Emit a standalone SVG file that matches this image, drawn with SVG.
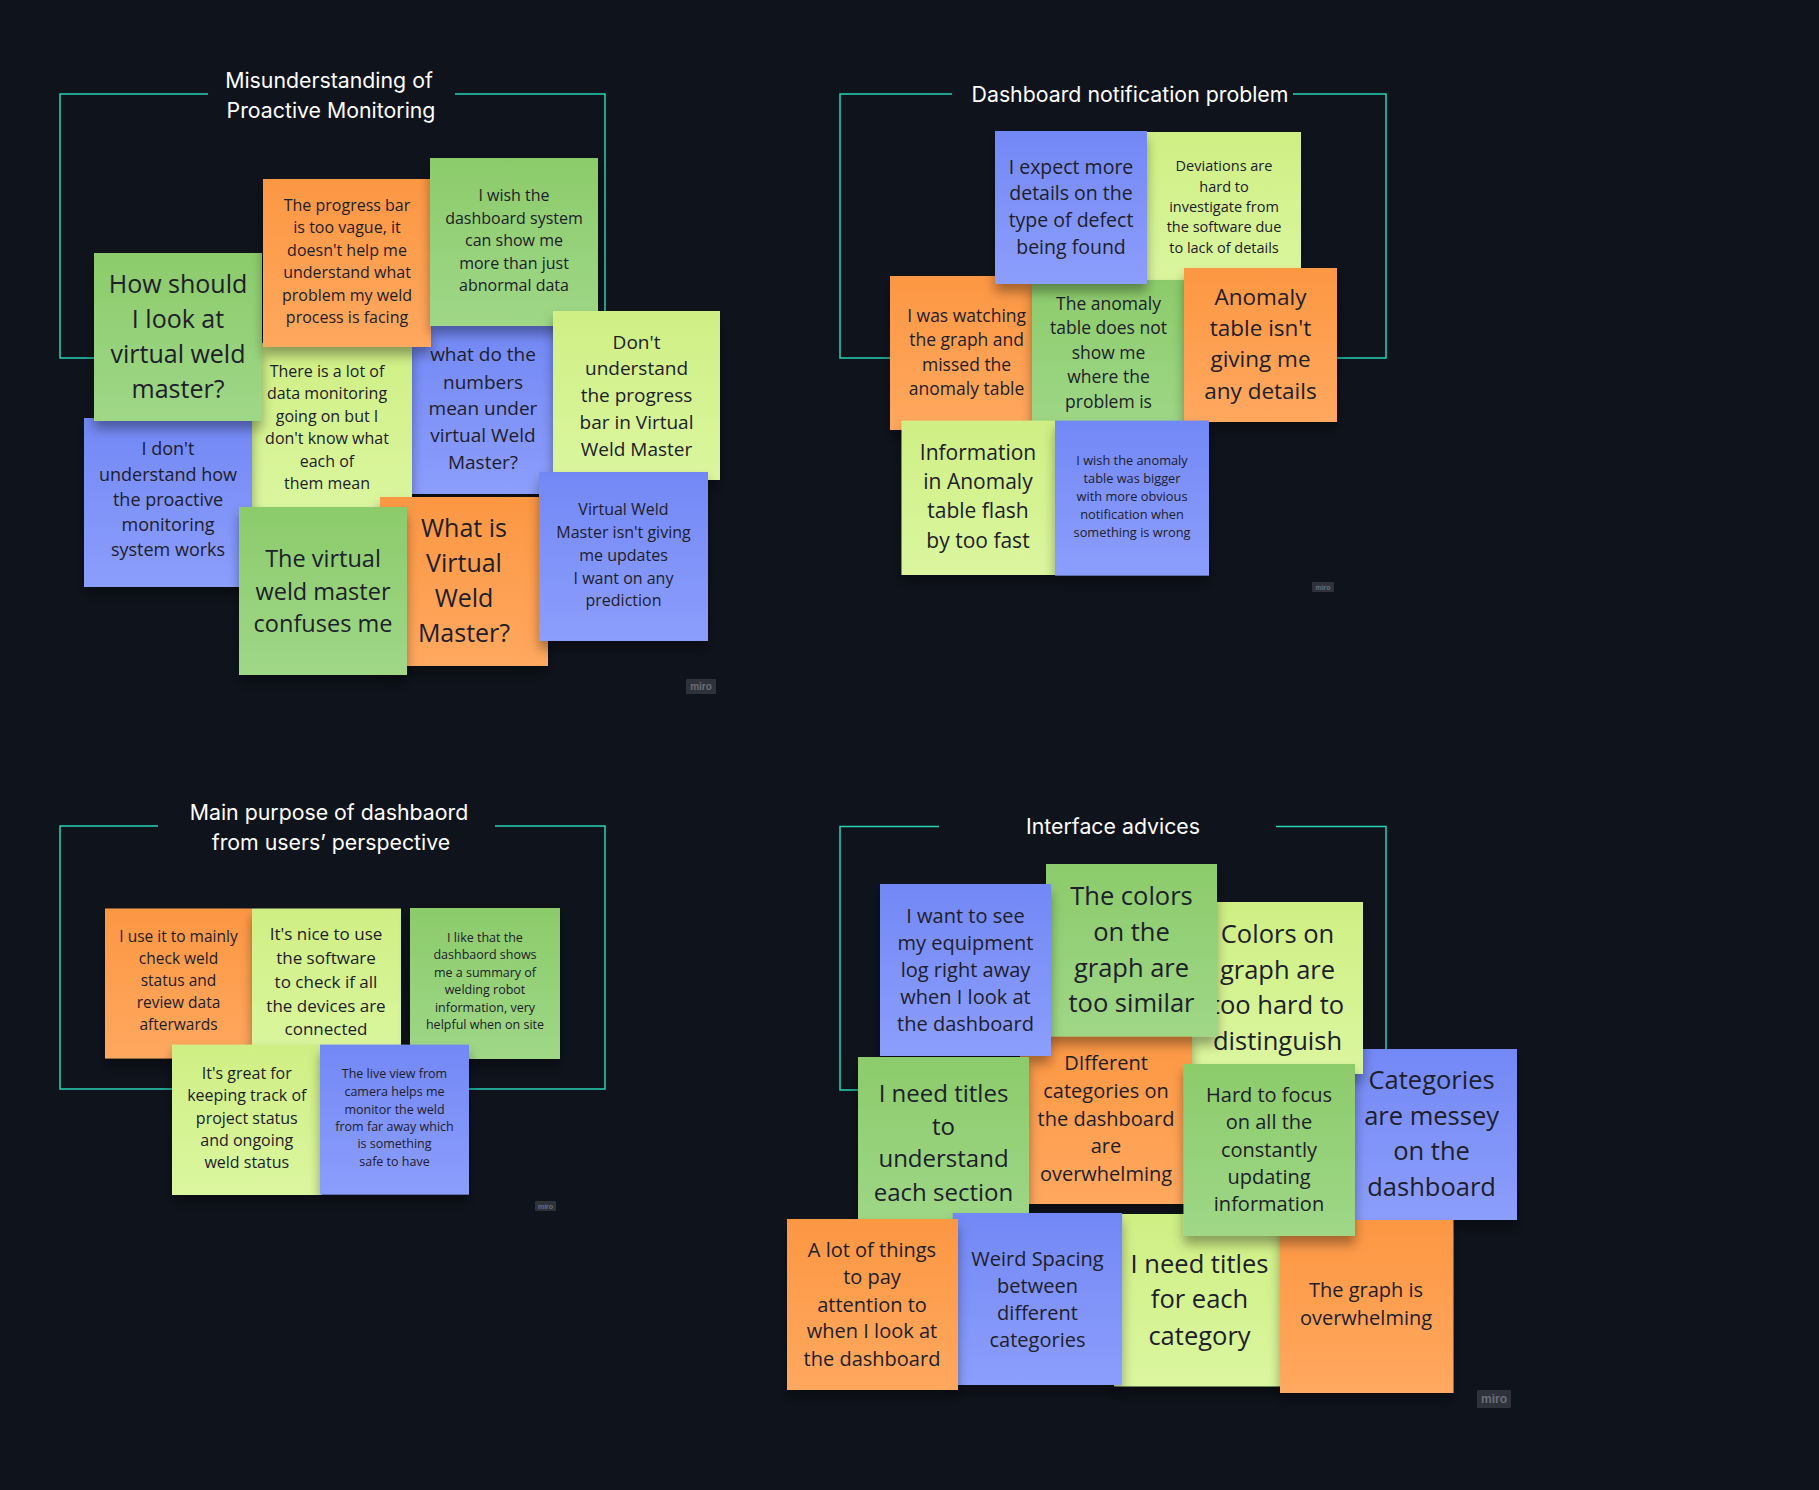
<svg xmlns="http://www.w3.org/2000/svg" width="1819" height="1490" viewBox="0 0 1819 1490">
<defs>
<linearGradient id="gO" x1="0" y1="0" x2="0" y2="1"><stop offset="0" stop-color="#fc9743"/><stop offset="1" stop-color="#ffa85f"/></linearGradient>
<linearGradient id="gG" x1="0" y1="0" x2="0" y2="1"><stop offset="0" stop-color="#8ccb6b"/><stop offset="1" stop-color="#9fd787"/></linearGradient>
<linearGradient id="gB" x1="0" y1="0" x2="0" y2="1"><stop offset="0" stop-color="#7288f5"/><stop offset="1" stop-color="#8c9efc"/></linearGradient>
<linearGradient id="gL" x1="0" y1="0" x2="0" y2="1"><stop offset="0" stop-color="#cfef84"/><stop offset="1" stop-color="#dbf69f"/></linearGradient>
<filter id="sh" x="-20%" y="-20%" width="140%" height="150%"><feDropShadow dx="0" dy="8" stdDeviation="6" flood-color="#000" flood-opacity="0.35"/></filter>
</defs>
<style>
.bg{fill:#0f131c}
.fr{fill:none;stroke:#27d3b5;stroke-width:1.5}
.ti{font-family:Inter,"Liberation Sans",sans-serif;font-size:21.3px;fill:#ffffff;text-anchor:middle}
.s{filter:url(#sh)}
.o{fill:url(#gO)}
.g{fill:url(#gG)}
.b{fill:url(#gB)}
.l{fill:url(#gL)}
.t{font-family:"Open Sans","Liberation Sans",sans-serif;fill:#1d2029;text-anchor:middle}
.mb{fill:#2f323b}
.mt{font-family:"Liberation Sans",sans-serif;font-weight:bold;fill:#6a6d78;text-anchor:middle}
</style>
<rect class="bg" x="0" y="0" width="1819" height="1490"/>

<g id="connectors">
<path class="fr" d="M208,94 H60 V358 H605 V94 H455"/>
<path class="fr" d="M952,94 H840 V358 H1386 V94 H1293"/>
<path class="fr" d="M158,826 H60 V1089 H605 V826 H495"/>
<path class="fr" d="M939,826.5 H840 V1090 H1386 V826.5 H1276"/>
</g>

<g id="titles">
<text class="ti"><tspan x="329" y="87.5">Misunderstanding of</tspan><tspan x="331" y="117.5">Proactive Monitoring</tspan></text>
<text class="ti" x="1130" y="102">Dashboard notification problem</text>
<text class="ti"><tspan x="329" y="819.5">Main purpose of dashbaord</tspan><tspan x="331" y="849.5">from users’ perspective</tspan></text>
<text class="ti" x="1113" y="834">Interface advices</text>
</g>

<!-- Frame 1 -->
<g id="n1-6"><rect class="s b" x="399" y="326" width="168" height="168"/>
<text class="t" font-size="19"><tspan x="483" y="361">what do the</tspan><tspan x="483" y="388.5">numbers</tspan><tspan x="483" y="415.4">mean under</tspan><tspan x="483" y="442.3">virtual Weld</tspan><tspan x="483" y="468.9">Master?</tspan></text></g>
<g id="n1-5"><rect class="s l" x="244" y="343" width="168" height="168"/>
<text class="t" font-size="16"><tspan x="327" y="376.6">There is a lot of</tspan><tspan x="327" y="399.2">data monitoring</tspan><tspan x="327" y="421.6">going on but I</tspan><tspan x="327" y="443.6">don't know what</tspan><tspan x="327" y="466.6">each of</tspan><tspan x="327" y="488.6">them mean</tspan></text></g>
<g id="n1-4"><rect class="s b" x="84" y="418" width="168" height="169"/>
<text class="t" font-size="18"><tspan x="168" y="455.3">I don't</tspan><tspan x="168" y="480.7">understand how</tspan><tspan x="168" y="506.3">the proactive</tspan><tspan x="168" y="531.3">monitoring</tspan><tspan x="168" y="556.3">system works</tspan></text></g>
<g id="n1-9"><rect class="s o" x="380" y="497" width="168" height="169"/>
<text class="t" font-size="25"><tspan x="464" y="536.8">What is</tspan><tspan x="464" y="572.4">Virtual</tspan><tspan x="464" y="607.3">Weld</tspan><tspan x="464" y="642.3">Master?</tspan></text></g>
<g id="n1-1"><rect class="s g" x="94" y="253" width="168" height="168"/>
<text class="t" font-size="25"><tspan x="178" y="292.8">How should</tspan><tspan x="178" y="327.8">I look at</tspan><tspan x="178" y="362.8">virtual weld</tspan><tspan x="178" y="397.8">master?</tspan></text></g>
<g id="n1-2"><rect class="s o" x="263" y="179" width="168" height="168"/>
<text class="t" font-size="16"><tspan x="347" y="211">The progress bar</tspan><tspan x="347" y="233.3">is too vague, it</tspan><tspan x="347" y="255.6">doesn't help me</tspan><tspan x="347" y="277.9">understand what</tspan><tspan x="347" y="300.6">problem my weld</tspan><tspan x="347" y="323.4">process is facing</tspan></text></g>
<g id="n1-3"><rect class="s g" x="430" y="158" width="168" height="168"/>
<text class="t" font-size="16"><tspan x="514" y="200.9">I wish the</tspan><tspan x="514" y="223.6">dashboard system</tspan><tspan x="514" y="246">can show me</tspan><tspan x="514" y="268.6">more than just</tspan><tspan x="514" y="291">abnormal data</tspan></text></g>
<g id="n1-7"><rect class="s l" x="553" y="311" width="167" height="169"/>
<text class="t" font-size="19"><tspan x="636.5" y="348.5">Don't</tspan><tspan x="636.5" y="375">understand</tspan><tspan x="636.5" y="402.4">the progress</tspan><tspan x="636.5" y="428.9">bar in Virtual</tspan><tspan x="636.5" y="455.7">Weld Master</tspan></text></g>
<g id="n1-8"><rect class="s b" x="539" y="472" width="169" height="169"/>
<text class="t" font-size="16"><tspan x="623.5" y="515.4">Virtual Weld</tspan><tspan x="623.5" y="538.1">Master isn't giving</tspan><tspan x="623.5" y="560.8">me updates</tspan><tspan x="623.5" y="583.6">I want on any</tspan><tspan x="623.5" y="605.6">prediction</tspan></text></g>
<g id="n1-10"><rect class="s g" x="239" y="507" width="168" height="168"/>
<text class="t" font-size="23.5"><tspan x="323" y="566.8">The virtual</tspan><tspan x="323" y="599.6">weld master</tspan><tspan x="323" y="631.6">confuses me</tspan></text></g>
<g id="miro1"><rect class="mb" x="686" y="679" width="30" height="15" rx="1"/><text class="mt" x="701" y="690" font-size="10">miro</text></g>

<!-- Frame 2 -->
<g id="n2-b"><rect class="s l" x="1147" y="132" width="154" height="154"/>
<text class="t" font-size="14.5"><tspan x="1224" y="171.1">Deviations are</tspan><tspan x="1224" y="191.5">hard to</tspan><tspan x="1224" y="211.8">investigate from</tspan><tspan x="1224" y="232.1">the software due</tspan><tspan x="1224" y="252.8">to lack of details</tspan></text></g>
<g id="n2-c"><rect class="s o" x="890" y="276" width="153" height="154"/>
<text class="t" font-size="17.5"><tspan x="966.6" y="322.1">I was watching</tspan><tspan x="966.6" y="346.1">the graph and</tspan><tspan x="966.6" y="370.6">missed the</tspan><tspan x="966.6" y="395.1">anomaly table</tspan></text></g>
<g id="n2-d"><rect class="s g" x="1032" y="280" width="153" height="150"/>
<text class="t" font-size="17.5"><tspan x="1108.5" y="309.6">The anomaly</tspan><tspan x="1108.5" y="334.1">table does not</tspan><tspan x="1108.5" y="358.5">show me</tspan><tspan x="1108.5" y="382.9">where the</tspan><tspan x="1108.5" y="407.7">problem is</tspan></text></g>
<g id="n2-a"><rect class="s b" x="995" y="131" width="152" height="153"/>
<text class="t" font-size="19.5"><tspan x="1071" y="173.6">I expect more</tspan><tspan x="1071" y="200.4">details on the</tspan><tspan x="1071" y="227.3">type of defect</tspan><tspan x="1071" y="253.8">being found</tspan></text></g>
<g id="n2-g"><rect class="s o" x="1184" y="268" width="153" height="154"/>
<text class="t" font-size="22.5"><tspan x="1260.5" y="304.5">Anomaly</tspan><tspan x="1260.5" y="335.5">table isn't</tspan><tspan x="1260.5" y="366.9">giving me</tspan><tspan x="1260.5" y="398.5">any details</tspan></text></g>
<g id="n2-e"><rect class="s l" x="901.5" y="420.6" width="153.5" height="154.4"/>
<text class="t" font-size="21"><tspan x="978" y="460">Information</tspan><tspan x="978" y="489.4">in Anomaly</tspan><tspan x="978" y="518.4">table flash</tspan><tspan x="978" y="547.8">by too fast</tspan></text></g>
<g id="n2-f"><rect class="s b" x="1055" y="420.6" width="154" height="155"/>
<text class="t" font-size="12.8"><tspan x="1132" y="464.5">I wish the anomaly</tspan><tspan x="1132" y="482.5">table was bigger</tspan><tspan x="1132" y="500.5">with more obvious</tspan><tspan x="1132" y="518.5">notification when</tspan><tspan x="1132" y="536.5">something is wrong</tspan></text></g>
<g id="miro2"><rect class="mb" x="1312" y="582" width="22" height="10" rx="1"/><text class="mt" x="1323" y="589.5" font-size="7">miro</text></g>

<!-- Frame 3 -->
<g id="n3-a"><rect class="s o" x="105" y="908.5" width="147" height="150"/>
<text class="t" font-size="15.5"><tspan x="178.5" y="942.1">I use it to mainly</tspan><tspan x="178.5" y="964">check weld</tspan><tspan x="178.5" y="986.3">status and</tspan><tspan x="178.5" y="1008.2">review data</tspan><tspan x="178.5" y="1030.4">afterwards</tspan></text></g>
<g id="n3-b"><rect class="s l" x="252" y="908.5" width="149" height="150"/>
<text class="t" font-size="17"><tspan x="326" y="940.4">It's nice to use</tspan><tspan x="326" y="964.3">the software</tspan><tspan x="326" y="987.9">to check if all</tspan><tspan x="326" y="1011.8">the devices are</tspan><tspan x="326" y="1035.3">connected</tspan></text></g>
<g id="n3-c"><rect class="s g" x="410" y="908" width="150" height="151"/>
<text class="t" font-size="12.5"><tspan x="485" y="942.1">I like that the</tspan><tspan x="485" y="959.4">dashbaord shows</tspan><tspan x="485" y="977">me a summary of</tspan><tspan x="485" y="994.2">welding robot</tspan><tspan x="485" y="1011.8">information, very</tspan><tspan x="485" y="1029.1">helpful when on site</tspan></text></g>
<g id="n3-d"><rect class="s l" x="172" y="1044.6" width="149.5" height="150.4"/>
<text class="t" font-size="16"><tspan x="246.8" y="1079.1">It's great for</tspan><tspan x="246.8" y="1101">keeping track of</tspan><tspan x="246.8" y="1123.6">project status</tspan><tspan x="246.8" y="1145.8">and ongoing</tspan><tspan x="246.8" y="1168.1">weld status</tspan></text></g>
<g id="n3-e"><rect class="s b" x="320" y="1044.6" width="149" height="150"/>
<text class="t" font-size="12.5"><tspan x="394.5" y="1078.4">The live view from</tspan><tspan x="394.5" y="1096.4">camera helps me</tspan><tspan x="394.5" y="1113.7">monitor the weld</tspan><tspan x="394.5" y="1131.4">from far away which</tspan><tspan x="394.5" y="1148.4">is something</tspan><tspan x="394.5" y="1166.2">safe to have</tspan></text></g>
<g id="miro3"><rect class="mb" x="535" y="1201" width="21" height="10" rx="1"/><text class="mt" x="545.5" y="1208.5" font-size="7">miro</text></g>

<!-- Frame 4 -->
<g id="n4-g"><rect class="s b" x="1346" y="1049" width="171" height="171"/>
<text class="t" font-size="25.5"><tspan x="1431.6" y="1088.9">Categories</tspan><tspan x="1431.6" y="1125.2">are messey</tspan><tspan x="1431.6" y="1160.4">on the</tspan><tspan x="1431.6" y="1195.6">dashboard</tspan></text></g>
<g id="n4-c"><rect class="s l" x="1192" y="902" width="171" height="172"/>
<text class="t" font-size="25.5"><tspan x="1277.5" y="943.3">Colors on</tspan><tspan x="1277.5" y="978.9">graph are</tspan><tspan x="1277.5" y="1013.9">too hard to</tspan><tspan x="1277.5" y="1049.7">distinguish</tspan></text></g>
<g id="n4-d"><rect class="s o" x="1020" y="1033" width="172" height="171"/>
<text class="t" font-size="20"><tspan x="1106" y="1070">DIfferent</tspan><tspan x="1106" y="1098">categories on</tspan><tspan x="1106" y="1125.7">the dashboard</tspan><tspan x="1106" y="1153.4">are</tspan><tspan x="1106" y="1181">overwhelming</tspan></text></g>
<g id="n4-b"><rect class="s g" x="1046" y="864" width="171" height="172.5"/>
<text class="t" font-size="25.5"><tspan x="1131.5" y="904.9">The colors</tspan><tspan x="1131.5" y="940.6">on the</tspan><tspan x="1131.5" y="976.5">graph are</tspan><tspan x="1131.5" y="1011.9">too similar</tspan></text></g>
<g id="n4-a"><rect class="s b" x="880" y="884" width="171" height="172"/>
<text class="t" font-size="20"><tspan x="965.5" y="922.5">I want to see</tspan><tspan x="965.5" y="950">my equipment</tspan><tspan x="965.5" y="977.4">log right away</tspan><tspan x="965.5" y="1004.3">when I look at</tspan><tspan x="965.5" y="1031">the dashboard</tspan></text></g>
<g id="n4-e"><rect class="s g" x="858" y="1057" width="171" height="171"/>
<text class="t" font-size="24"><tspan x="943.5" y="1101.8">I need titles</tspan><tspan x="943.5" y="1135">to</tspan><tspan x="943.5" y="1167.4">understand</tspan><tspan x="943.5" y="1200.6">each section</tspan></text></g>
<g id="n4-j"><rect class="s l" x="1114" y="1214" width="171" height="172.4"/>
<text class="t" font-size="25.5"><tspan x="1199.5" y="1272.7">I need titles</tspan><tspan x="1199.5" y="1307.9">for each</tspan><tspan x="1199.5" y="1344.7">category</tspan></text></g>
<g id="n4-k"><rect class="s o" x="1280" y="1220" width="173.5" height="173"/>
<text class="t" font-size="20"><tspan x="1366" y="1297">The graph is</tspan><tspan x="1366" y="1324.8">overwhelming</tspan></text></g>
<g id="n4-f"><rect class="s g" x="1183.5" y="1064" width="171.5" height="172"/>
<text class="t" font-size="20"><tspan x="1269" y="1101.6">Hard to focus</tspan><tspan x="1269" y="1129">on all the</tspan><tspan x="1269" y="1157">constantly</tspan><tspan x="1269" y="1183.8">updating</tspan><tspan x="1269" y="1211">information</tspan></text></g>
<g id="n4-i"><rect class="s b" x="952.7" y="1213" width="169.5" height="172"/>
<text class="t" font-size="20"><tspan x="1037.5" y="1265.7">Weird Spacing</tspan><tspan x="1037.5" y="1292.6">between</tspan><tspan x="1037.5" y="1319.8">different</tspan><tspan x="1037.5" y="1347">categories</tspan></text></g>
<g id="n4-h"><rect class="s o" x="787" y="1219" width="171" height="171"/>
<text class="t" font-size="20"><tspan x="872" y="1256.6">A lot of things</tspan><tspan x="872" y="1284.2">to pay</tspan><tspan x="872" y="1311.5">attention to</tspan><tspan x="872" y="1338.4">when I look at</tspan><tspan x="872" y="1365.7">the dashboard</tspan></text></g>
<g id="miro4"><rect class="mb" x="1477" y="1390" width="34" height="18" rx="1"/><text class="mt" x="1494" y="1403" font-size="12">miro</text></g>
</svg>
